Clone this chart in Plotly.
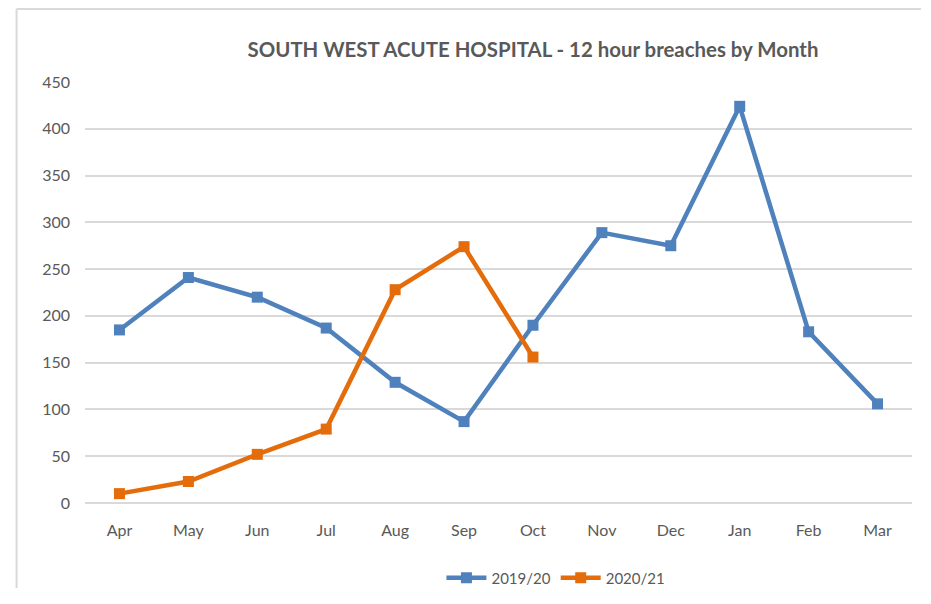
import plotly.graph_objects as go

months = ["Apr", "May", "Jun", "Jul", "Aug", "Sep", "Oct", "Nov", "Dec", "Jan", "Feb", "Mar"]
series_2019_20 = [185, 241, 220, 187, 129, 87, 190, 289, 275, 424, 183, 106]
months_2020_21 = ["Apr", "May", "Jun", "Jul", "Aug", "Sep", "Oct"]
series_2020_21 = [10, 23, 52, 79, 228, 274, 156]
y_ticks = [0, 50, 100, 150, 200, 250, 300, 350, 400, 450]

FONT = "Lato, Liberation Sans, sans-serif"
TXT = "#595959"
W, H = 913, 580

fig = go.Figure()
fig.add_trace(go.Scatter(
    x=months, y=series_2019_20, name="2019/20", mode="lines+markers",
    line=dict(color="#4F81BD", width=4.5),
    marker=dict(symbol="square", size=11, color="#4F81BD"),
))
fig.add_trace(go.Scatter(
    x=months_2020_21, y=series_2020_21, name="2020/21", mode="lines+markers",
    line=dict(color="#E46C0A", width=4.5),
    marker=dict(symbol="square", size=11, color="#E46C0A"),
))

fig.update_layout(
    width=W, height=H,
    paper_bgcolor="white", plot_bgcolor="white",
    margin=dict(l=76.5, r=W - 904.5, t=74, b=8 + H - 503, autoexpand=False),
    font=dict(family=FONT, color=TXT, size=16),
    title=dict(
        text="<b>SOUTH WEST ACUTE HOSPITAL - 12 hour breaches by Month</b>",
        x=(533 - 8) / W, xanchor="center", y=1 - 42 / H, yanchor="middle",
        font=dict(family=FONT, size=20.4, color=TXT),
    ),
    xaxis=dict(
        type="category", categoryorder="array", categoryarray=months,
        range=[-0.5, 11.5], showgrid=False, showline=False, zeroline=False,
        ticks="", ticklabelstandoff=16, tickfont=dict(size=16, color=TXT),
        automargin=False,
    ),
    yaxis=dict(
        range=[0, 450], tickvals=y_ticks, showgrid=True, gridcolor="#D9D9D9",
        gridwidth=1.5, zeroline=True, zerolinecolor="#D9D9D9", zerolinewidth=1.5,
        showline=False, ticks="", ticklabelstandoff=14,
        tickfont=dict(size=16, color=TXT), automargin=False,
    ),
    legend=dict(
        orientation="h", x=(556 - 84.5) / 828, xref="paper", xanchor="center",
        y=-75 / 421, yanchor="middle",
        font=dict(size=15, color=TXT), itemwidth=40,
    ),
    showlegend=True,
    shapes=[
        dict(type="line", xref="paper", yref="paper",
             x0=(16 - 84.5) / 828, x1=(16 - 84.5) / 828,
             y0=(503 - 9) / 421, y1=(503 - 620) / 421,
             line=dict(color="#D9D9D9", width=2)),
        dict(type="line", xref="paper", yref="paper",
             x0=(16 - 84.5) / 828, x1=(945 - 84.5) / 828,
             y0=(503 - 9) / 421, y1=(503 - 9) / 421,
             line=dict(color="#D9D9D9", width=2)),
    ],
)

fig.write_html("out.html")
